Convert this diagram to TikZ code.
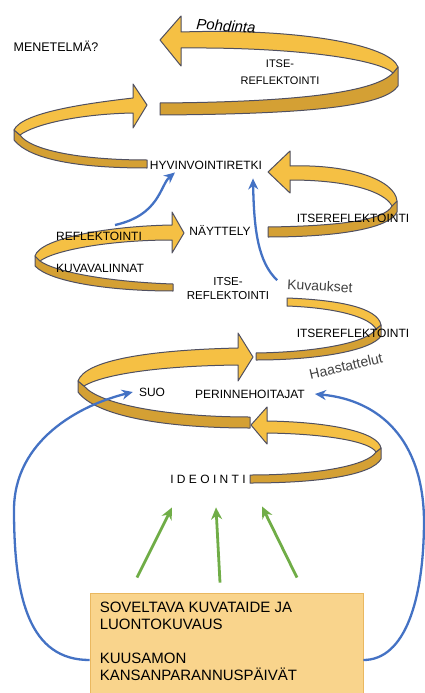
\documentclass[tikz,border=0pt]{standalone}
\usepackage{fontspec}
\setmainfont{Liberation Sans}
\usetikzlibrary{arrows.meta}

\definecolor{ribbonLight}{RGB}{245,192,68}
\definecolor{ribbonDark}{RGB}{212,160,52}
\definecolor{ribbonEdge}{RGB}{80,80,96}
\definecolor{linkBlue}{RGB}{68,114,196}
\definecolor{linkGreen}{RGB}{112,173,71}
\definecolor{boxFill}{RGB}{249,212,140}
\definecolor{boxEdge}{RGB}{234,184,96}

\tikzstyle{lightBand}=[fill=ribbonLight, draw=ribbonEdge, line width=1pt, line join=round]
\tikzstyle{darkBand}=[fill=ribbonDark, draw=ribbonEdge, line width=1pt, line join=round]
\tikzstyle{spiralLabel}=[font=\fontsize{12}{14}\selectfont, inner sep=1pt]
\tikzstyle{noteLabel}=[font=\fontsize{14}{16}\selectfont, text=black!75, inner sep=1pt]
\tikzstyle{blueLink}=[-{Stealth[length=11pt,width=10pt]}, draw=linkBlue, line width=2.3pt]
\tikzstyle{greenLink}=[-{Stealth[length=12pt,width=11pt]}, draw=linkGreen, line width=2.8pt]
\tikzstyle{infoBox}=[draw=boxEdge, fill=boxFill, line width=0.8pt, minimum width=273pt, minimum height=134pt, inner sep=0pt]
\tikzstyle{boxText}=[font=\fontsize{15}{17}\selectfont, align=left, inner sep=0pt]

\begin{document}
\begin{tikzpicture}[x=1pt, y=-1pt]
        \clip (0,0) rectangle (425,693);

        % spiral, from the top down
        \filldraw[darkBand] (160,103) .. controls (300,102) and (375,92) .. (393,73) -- (398,67) -- (398,86) .. controls (385,105) and (320,114) .. (160,115) -- cycle;
        \filldraw[lightBand] (181,32) .. controls (300,28) and (390,45) .. (398,67) -- (393,73) .. controls (380,60) and (300,47) .. (181,48) -- (181,66) -- (160,40) -- (181,16) -- cycle;

        \filldraw[darkBand] (14,130) -- (14,140) .. controls (30,160) and (80,168) .. (147,168) -- (147,160) .. controls (80,160) and (30,150) .. (20,135) -- cycle;
        \filldraw[lightBand] (133,98) .. controls (90,103) and (22,112) .. (14,130) -- (20,135) .. controls (35,124) and (80,114) .. (133,113) -- (133,128) -- (147,105) -- (133,84) -- cycle;

        \filldraw[darkBand] (268,227) .. controls (340,226) and (385,220) .. (392,206) -- (397,201) -- (397,212) .. controls (390,228) and (340,237) .. (268,237) -- cycle;
        \filldraw[lightBand] (290,166) .. controls (350,164) and (395,180) .. (397,201) -- (392,206) .. controls (385,192) and (350,180) .. (290,180) -- (290,193) -- (268,172) -- (290,151) -- cycle;

        \filldraw[darkBand] (35,256) -- (35,266) .. controls (50,282) and (110,291) .. (173,291) -- (173,284) .. controls (110,282) and (55,272) .. (40,261) -- cycle;
        \filldraw[lightBand] (172,225) .. controls (110,226) and (40,238) .. (35,256) -- (40,261) .. controls (55,250) and (110,240) .. (172,240) -- (172,253) -- (184,233) -- (172,212) -- cycle;

        \filldraw[darkBand] (256,353) .. controls (320,352) and (368,342) .. (376,329) -- (381,325) -- (381,336) .. controls (372,350) and (320,360) .. (256,360) -- cycle;
        \filldraw[lightBand] (287,298) .. controls (340,300) and (378,308) .. (381,325) -- (376,329) .. controls (370,318) and (340,308) .. (287,306) -- cycle;

        \filldraw[darkBand] (78,381) -- (78,392) .. controls (95,415) and (160,428) .. (250,428) -- (250,417) .. controls (170,417) and (100,405) .. (84,386) -- cycle;
        \filldraw[lightBand] (238,348) .. controls (150,350) and (85,360) .. (78,381) -- (84,386) .. controls (100,376) and (150,366) .. (238,365) -- (238,381) -- (253,357) -- (238,333) -- cycle;

        \filldraw[darkBand] (250,475) .. controls (320,475) and (368,465) .. (376,452) -- (381,448) -- (381,459) .. controls (372,475) and (320,483) .. (250,483) -- cycle;
        \filldraw[lightBand] (267,421) .. controls (330,422) and (378,432) .. (381,448) -- (376,452) .. controls (370,442) and (330,434) .. (267,433) -- (267,444) -- (251,425) -- (267,407) -- cycle;


        \node[spiralLabel, font=\fontsize{12.5}{14}\selectfont] (menetelma) at (56,46) {MENETELMÄ?};
        \node[spiralLabel, font=\fontsize{15}{17}\selectfont\itshape, rotate=-4] (pohdinta) at (226,26) {Pohdinta};
        \node[spiralLabel, font=\fontsize{11}{17}\selectfont, align=center] (itseTop) at (280,72) {ITSE-\\REFLEKTOINTI};
        \node[spiralLabel] (hyvinvointi) at (206,165) {HYVINVOINTIRETKI};
        \node[spiralLabel] (reflektointi) at (99,236) {REFLEKTOINTI};
        \node[spiralLabel] (nayttely) at (220,230) {NÄYTTELY};
        \node[spiralLabel] (itseReflA) at (353,218) {ITSEREFLEKTOINTI};
        \node[spiralLabel] (kuvavalinnat) at (100,268) {KUVAVALINNAT};
        \node[spiralLabel, font=\fontsize{11.5}{14}\selectfont, align=center] (itseMid) at (228,289) {ITSE-\\REFLEKTOINTI};
        \node[noteLabel, rotate=-3] (kuvaukset) at (320,286) {Kuvaukset};
        \node[spiralLabel] (itseReflB) at (353,333) {ITSEREFLEKTOINTI};
        \node[noteLabel, rotate=13] (haastattelut) at (346,366) {Haastattelut};
        \node[spiralLabel] (suo) at (152,392) {SUO};
        \node[spiralLabel] (perinne) at (250,394) {PERINNEHOITAJAT};
        \node[spiralLabel] (ideointi) at (208,479) {I D E O I N T I};

        \node[infoBox] (box) at (226.5,660) {};
        \node[boxText, anchor=north west] (sources) at ([xshift=10pt, yshift=-9pt]box.north west) {SOVELTAVA KUVATAIDE JA\\LUONTOKUVAUS\\[17pt]KUUSAMON\\KANSANPARANNUSPÄIVÄT};

        \draw[blueLink] (box.west) .. controls (30,660) and (14,600) .. (14,510) .. controls (14,440) and (80,405) .. ([xshift=-5pt]suo.west);
        \draw[blueLink] (box.east) .. controls (405,660) and (424,600) .. (424,520) .. controls (423,440) and (380,400) .. ([xshift=9pt]perinne.east);
        \coordinate (reflStart) at (115,225);
        \draw[blueLink] (reflStart) .. controls (160,215) and (160,185) .. ([xshift=-31pt, yshift=-2pt]hyvinvointi.south);
        \draw[blueLink] ([xshift=-9pt, yshift=4pt]kuvaukset.west) .. controls (258,262) and (254,230) .. ([xshift=47pt, yshift=-8pt]hyvinvointi.south);

        \draw[greenLink] ([xshift=-89.5pt, yshift=15pt]box.north) -- ([xshift=-36pt, yshift=-23pt]ideointi.south);
        \draw[greenLink] ([xshift=-6.5pt, yshift=10pt]box.north) -- ([xshift=8pt, yshift=-23pt]ideointi.south);
        \draw[greenLink] ([xshift=70.5pt, yshift=15pt]box.north) -- ([xshift=54pt, yshift=-22pt]ideointi.south);

    \end{tikzpicture}
\end{document}
